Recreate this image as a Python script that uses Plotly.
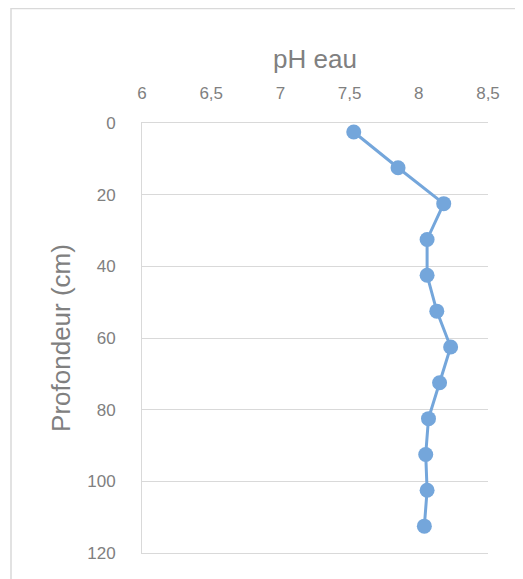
import plotly.graph_objects as go

# ── Données ────────────────────────────────────────────────────────────────
profondeur_cm = [2.5, 12.5, 22.5, 32.5, 42.5, 52.5, 62.5, 72.5, 82.5, 92.5, 102.5, 112.5]
ph_eau = [7.53, 7.85, 8.18, 8.06, 8.06, 8.13, 8.23, 8.15, 8.07, 8.05, 8.06, 8.04]

x_ticks = [6, 6.5, 7, 7.5, 8, 8.5]
x_labels = ["6", "6,5", "7", "7,5", "8", "8,5"]
y_ticks = [0, 20, 40, 60, 80, 100, 120]

GRIS = "#808080"
GRILLE = "#d9d9d9"
BLEU = "#74a6db"
POLICE = "'Liberation Sans', Arial, sans-serif"

fig = go.Figure()
fig.add_trace(go.Scatter(
    x=ph_eau, y=profondeur_cm,
    mode="lines+markers",
    line=dict(color=BLEU, width=3),
    marker=dict(color=BLEU, size=15),
    cliponaxis=False,
))

# la page ajoute une marge de 8 px : la figure est réduite d'autant
fig.update_layout(
    width=515, height=571,
    margin=dict(l=134, r=35, t=115, b=26),
    paper_bgcolor="white", plot_bgcolor="white",
    showlegend=False,
    font=dict(family=POLICE, color=GRIS),
    xaxis=dict(
        side="top", range=[6, 8.5],
        tickvals=x_ticks, ticktext=x_labels,
        showgrid=False, zeroline=False,
        showline=True, mirror=True, linecolor=GRILLE, linewidth=1,
        ticks="outside", ticklen=16, tickcolor="rgba(0,0,0,0)",
        tickfont=dict(size=17, color=GRIS),
        title=dict(text="pH eau", font=dict(size=26, color=GRIS), standoff=8),
    ),
    yaxis=dict(
        range=[120, 0], tickvals=y_ticks,
        showgrid=True, gridcolor=GRILLE, gridwidth=1,
        zeroline=False, showline=True, linecolor=GRILLE, linewidth=1,
        ticks="outside", ticklen=22, tickcolor="rgba(0,0,0,0)",
        tickfont=dict(size=17, color=GRIS),
        title=dict(text="Profondeur (cm)", font=dict(size=26, color=GRIS), standoff=9),
    ),
    shapes=[dict(
        type="rect", xref="paper", yref="paper",
        x0=-0.3786, x1=2, y0=-1, y1=1.2663,
        line=dict(color=GRILLE, width=1.5),
        fillcolor="rgba(0,0,0,0)", layer="below",
    )],
)

fig.write_html("out.html")
